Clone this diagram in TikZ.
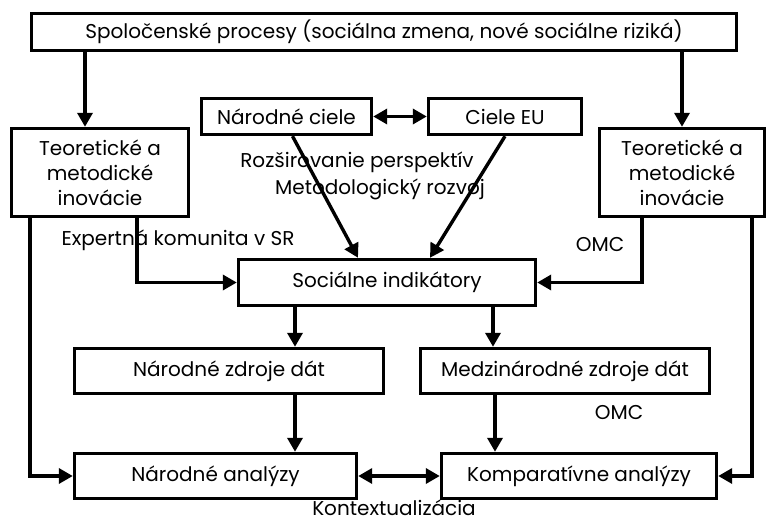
\documentclass[tikz,border=0pt]{standalone}
\usepackage{fontspec}
\setmainfont{Poppins}
\usetikzlibrary{arrows.meta}

\tikzset{
  box/.style={draw, line width=3.4pt, inner sep=0pt, align=center, font=\fontsize{20}{25}\selectfont},
  lbl/.style={inner sep=0pt, font=\fontsize{20}{25}\selectfont},
  arr/.style={line width=3.4pt, -{Triangle[length=14pt,width=15pt]}},
  darr/.style={line width=3.4pt, {Triangle[length=14pt,width=15pt]}-{Triangle[length=14pt,width=15pt]}}
}

\begin{document}
\begin{tikzpicture}[x=1pt, y=-1pt]
      \useasboundingbox (0,0) rectangle (770,524);

      \node[box, minimum width=705pt, minimum height=37pt] (top) at (384,32) {Spoločenské procesy (sociálna zmena, nové sociálne riziká)};
      \node[box, minimum width=177pt, minimum height=88pt] (teoL) at (100,172.5) {Teoretické a\\ metodické\\ inovácie};
      \node[box, minimum width=170pt, minimum height=36pt] (narC) at (286.5,116.5) {Národné ciele};
      \node[box, minimum width=153pt, minimum height=36pt] (euC) at (505,116.5) {Ciele EU};
      \node[box, minimum width=165pt, minimum height=88pt] (teoR) at (682,172.5) {Teoretické a\\ metodické\\ inovácie};
      \node[box, minimum width=297pt, minimum height=46pt] (soc) at (387,282.5) {Sociálne indikátory};
      \node[box, minimum width=309pt, minimum height=45pt] (narZ) at (229,371) {Národné zdroje dát};
      \node[box, minimum width=289pt, minimum height=45pt] (medZ) at (565,371) {Medzinárodné zdroje dát};
      \node[box, minimum width=282pt, minimum height=45pt] (narA) at (215.5,476) {Národné analýzy};
      \node[box, minimum width=275pt, minimum height=45pt] (komA) at (579,476) {Komparatívne analýzy};

      \node[lbl] (rozs) at (357,162) {Rozširovanie perspektív};
      \node[lbl] (meto) at (380,189) {Metodologický rozvoj};
      \node[lbl] (expk) at (178,240) {Expertná komunita v SR};
      \node[lbl] (omc1) at (600,245) {OMC};
      \node[lbl] (omc2) at (619,413) {OMC};
      \node[lbl, anchor=base] (kont) at (394,515) {Kontextualizácia};

      \draw[arr] ([xshift=-15pt]teoL.north |- top.south) -- ([xshift=-15pt]teoL.north);
      \draw[arr] (teoR.north |- top.south) -- (teoR.north);
      \draw[darr] (narC.east) -- (euC.west);
      \draw[arr] ([xshift=6pt]narC.south) -- ([xshift=-29pt]soc.north);
      \draw[arr] (euC.south) -- ([xshift=43pt]soc.north);
      \draw[arr] ([xshift=37pt]teoL.south) |- (soc.west);
      \draw[arr] ([xshift=-70pt]teoL.south) |- (narA.west);
      \draw[arr] ([xshift=-40pt]teoR.south) |- (soc.east);
      \draw[arr] ([xshift=70pt]teoR.south) |- (komA.east);
      \draw[arr] ([xshift=-92pt]soc.south) -- ([xshift=-92pt]soc.south |- narZ.north);
      \draw[arr] ([xshift=106pt]soc.south) -- ([xshift=106pt]soc.south |- medZ.north);
      \draw[arr] ([xshift=66pt]narZ.south) -- ([xshift=66pt]narZ.south |- narA.north);
      \draw[arr] ([xshift=-70pt]medZ.south) -- ([xshift=-70pt]medZ.south |- komA.north);
      \draw[darr] (narA.east) -- (komA.west);
\end{tikzpicture}
\end{document}
